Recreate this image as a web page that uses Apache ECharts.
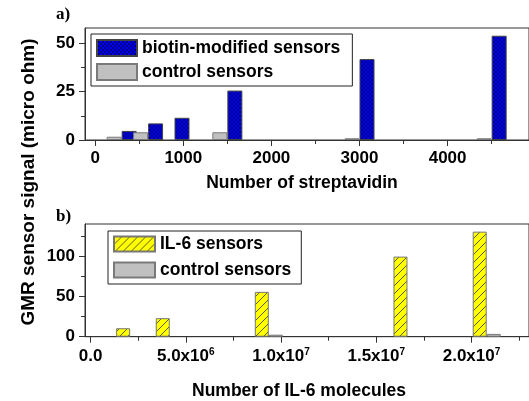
<!DOCTYPE html>
<html><head><meta charset="utf-8">
<script src="https://cdn.jsdelivr.net/npm/echarts@6/dist/echarts.min.js"></script>
<style>html,body{margin:0;padding:0;background:#fff}#c{width:529px;height:401px}</style>
</head><body><div id="c"></div>
<script>
// ---- data ----
const streptavidinCounts = [300, 600, 900, 1500, 3000, 4500];
const biotinSignal = [4.7, 8.6, 11.5, 25.6, 41.9, 54];
const controlSignalA = [1.7, 4.0, null, 4.0, 0.9, 0.9];
const il6Counts = [2.08e6, 4.16e6, 9.36e6, 16.64e6, 20.8e6];
const il6Signal = [10.5, 23, 55.7, 99.5, 130.5];
const controlSignalB = [null, null, 2.5, null, 3.5];
const xTicksA = [0, 1000, 2000, 3000, 4000];
const xMinorA = [500, 1500, 2500, 3500, 4500];
const yTicksA = [0, 25, 50];
const yMinorA = [12.5, 37.5];
const xTicksB = [0, 5e6, 1e7, 1.5e7, 2e7];
const xMinorB = [2.5e6, 7.5e6, 1.25e7, 1.75e7, 2.25e7];
const yTicksB = [0, 50, 100];
const yMinorB = [25, 75, 125];

const zip = (xs, ys) => xs.map((x, i) => [x, ys[i]]);

function makePattern(bg, draw, size) {
  const c = document.createElement('canvas');
  c.width = size; c.height = size;
  const g = c.getContext('2d');
  g.fillStyle = bg; g.fillRect(0, 0, size, size);
  draw(g, size);
  return { image: c, repeat: 'repeat' };
}
const blueHatch = makePattern('#0000f0', (g, s) => {
  g.strokeStyle = 'rgba(0,0,30,0.8)'; g.lineWidth = 0.6;
  g.beginPath(); g.moveTo(0, 0); g.lineTo(s, s); g.moveTo(s, 0); g.lineTo(0, s); g.stroke();
}, 4);
const yellowHatch = makePattern('#ffff00', (g, s) => {
  g.strokeStyle = '#333'; g.lineWidth = 0.8;
  g.beginPath(); g.moveTo(0, s); g.lineTo(s, 0); g.stroke();
}, 8);

const SANS = '"Liberation Sans", Arial, sans-serif';
const labelFont = { fontFamily: SANS, fontWeight: 'bold', fontSize: 17, color: '#000' };
const AX = '#333';

function mainX(grid, min, max, ticks, fmt, margin, rich) {
  return { type: 'value', gridIndex: grid, position: 'bottom', min, max,
    axisLine: { onZero: false, lineStyle: { color: AX, width: 1 } },
    axisTick: { customValues: ticks, length: 6, lineStyle: { color: AX } },
    axisLabel: Object.assign({ customValues: ticks, margin, formatter: fmt, rich }, labelFont),
    splitLine: { show: false } };
}
function minorX(grid, min, max, ticks) {
  return { type: 'value', gridIndex: grid, position: 'bottom', min, max,
    axisLine: { show: false, onZero: false },
    axisTick: { customValues: ticks, length: 4, lineStyle: { color: AX } },
    axisLabel: { show: false }, splitLine: { show: false } };
}
function mainY(grid, min, max, ticks) {
  return { type: 'value', gridIndex: grid, position: 'left', min, max,
    axisLine: { show: true, onZero: false, lineStyle: { color: AX, width: 1 } },
    axisTick: { show: true, customValues: ticks, length: 6, lineStyle: { color: AX } },
    axisLabel: Object.assign({ customValues: ticks, margin: 10, formatter: v => String(v) }, labelFont),
    splitLine: { show: false } };
}
function minorY(grid, min, max, ticks) {
  return { type: 'value', gridIndex: grid, position: 'left', min, max,
    axisLine: { show: false, onZero: false },
    axisTick: { show: true, customValues: ticks, length: 4, lineStyle: { color: AX } },
    axisLabel: { show: false }, splitLine: { show: false } };
}
function sciFmt(v) {
  if (v === 0) return '0.0';
  const e = Math.floor(Math.log10(v) + 1e-9);
  const m = (v / Math.pow(10, e)).toFixed(1);
  return m + 'x10{sup|' + e + '}';
}

const grey = { color: '#c0c0c0', borderColor: '#7a7a7a', borderWidth: 1 };
const legendCommon = { orient: 'vertical', selectedMode: false, icon: 'rect',
  borderColor: '#222', borderWidth: 1, backgroundColor: '#fff',
  textStyle: { fontFamily: SANS, fontWeight: 'bold', fontSize: 17.5, color: '#000', lineHeight: 16 } };

const chart = echarts.init(document.getElementById('c'), null, { renderer: 'canvas' });
chart.setOption({
  animation: false,
  backgroundColor: '#fff',
  grid: [
    { left: 85, top: 28, width: 446, height: 112, show: true, borderColor: AX, borderWidth: 1, backgroundColor: 'transparent' },
    { left: 85, top: 224, width: 446, height: 112.7, show: true, borderColor: AX, borderWidth: 1, backgroundColor: 'transparent' }
  ],
  xAxis: [
    mainX(0, -116, 4924, xTicksA, v => String(v), 10),
    minorX(0, -116, 4924, xMinorA),
    mainX(1, -0.29e6, 23.02e6, xTicksB, sciFmt, 11,
      { sup: { fontFamily: SANS, fontWeight: 'bold', fontSize: 10, lineHeight: 6, verticalAlign: 'top', color: '#000' } }),
    minorX(1, -0.29e6, 23.02e6, xMinorB)
  ],
  yAxis: [
    mainY(0, 0, 58, yTicksA),
    minorY(0, 0, 58, yMinorA),
    mainY(1, 0, 140, yTicksB),
    minorY(1, 0, 140, yMinorB)
  ],
  legend: [
    Object.assign({ data: ['biotin-modified sensors', 'control sensors'], left: 91, top: 34,
      padding: [5, 12, 5, 5], itemWidth: 40, itemHeight: 16, itemGap: 6 }, legendCommon),
    Object.assign({ data: ['IL-6 sensors', 'control sensors'], left: 108, top: 231,
      padding: [4, 10, 5, 5], itemWidth: 41, itemHeight: 15, itemGap: 8 }, legendCommon)
  ],
  series: [
    { name: 'control sensors', type: 'bar', xAxisIndex: 0, yAxisIndex: 0, barWidth: 15, barGap: '0%', z: 3,
      itemStyle: grey, data: zip(streptavidinCounts, controlSignalA) },
    { name: 'biotin-modified sensors', type: 'bar', xAxisIndex: 0, yAxisIndex: 0, barWidth: 15, barGap: '0%',
      itemStyle: { color: blueHatch, borderColor: '#444', borderWidth: 1 }, data: zip(streptavidinCounts, biotinSignal) },
    { name: 'IL-6 sensors', type: 'bar', xAxisIndex: 2, yAxisIndex: 2, barWidth: 14, barGap: '0%',
      itemStyle: { color: yellowHatch, borderColor: '#777', borderWidth: 1 }, data: zip(il6Counts, il6Signal) },
    { name: 'control sensors', type: 'bar', xAxisIndex: 2, yAxisIndex: 2, barWidth: 14, barGap: '0%', z: 3,
      itemStyle: grey, data: zip(il6Counts, controlSignalB) }
  ],
  graphic: [
    { type: 'text', x: 56, y: 15, style: { text: 'a)', font: 'bold 17px "Liberation Serif", "Times New Roman", serif', fill: '#000', verticalAlign: 'middle' } },
    { type: 'text', x: 56, y: 217, style: { text: 'b)', font: 'bold 17px "Liberation Serif", "Times New Roman", serif', fill: '#000', verticalAlign: 'middle' } },
    { type: 'text', x: 302, y: 183, style: { text: 'Number of streptavidin', font: 'bold 17.5px ' + SANS, fill: '#000', align: 'center', verticalAlign: 'middle' } },
    { type: 'text', x: 299, y: 391, style: { text: 'Number of IL-6 molecules', font: 'bold 17.5px ' + SANS, fill: '#000', align: 'center', verticalAlign: 'middle' } },
    { type: 'text', x: 29, y: 182, rotation: Math.PI / 2, style: { text: 'GMR sensor signal (micro ohm)', font: 'bold 19px ' + SANS, fill: '#000', align: 'center', verticalAlign: 'middle' } }
  ]
});
</script>
</body></html>
